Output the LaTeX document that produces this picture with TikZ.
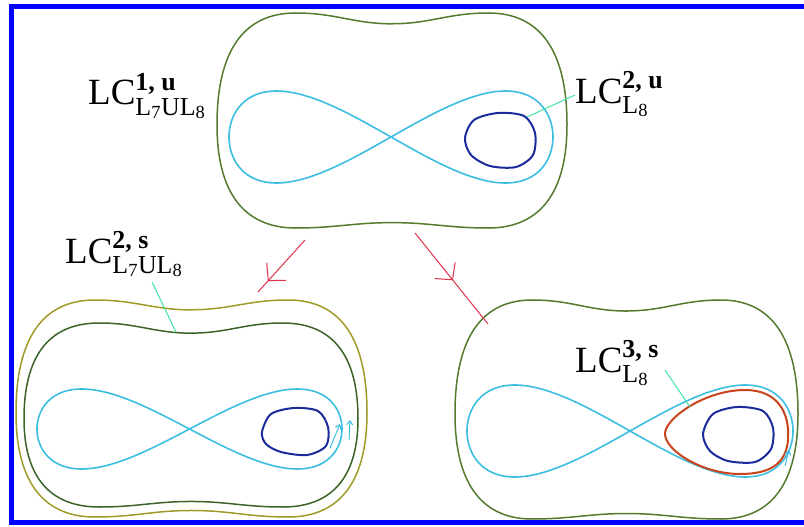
\documentclass[tikz,border=0pt]{standalone}
\usepackage{amsmath}
\usepackage{fontspec}
\setmainfont{Liberation Serif}
\usetikzlibrary{arrows.meta,decorations.markings}
\definecolor{frameblue}{RGB}{0,0,255}
\definecolor{olivegreen}{RGB}{84,122,46}
\definecolor{darkgreen}{RGB}{60,100,40}
\definecolor{yelloliv}{RGB}{160,155,40}
\definecolor{eightcyan}{RGB}{60,190,225}
\definecolor{loopblue}{RGB}{26,44,156}
\definecolor{loopred}{RGB}{200,68,28}
\definecolor{arrred}{RGB}{225,48,74}
\definecolor{conngreen}{RGB}{64,228,168}
\newcommand\peanut[7]{%
\begin{scope}[shift={(#1,#2)},xscale=#3,yscale=#4]
\draw[#7] (0,{-1+#5}) .. controls (0.22,{-1+#5}) and (0.32,-1) .. (0.55,-1)
 .. controls (0.86,-1) and (1,-0.62) .. (1,0.04)
 .. controls (1,0.64) and (0.86,1) .. (0.55,1)
 .. controls (0.32,1) and (0.22,{1-#6}) .. (0,{1-#6})
 .. controls (-0.22,{1-#6}) and (-0.32,1) .. (-0.55,1)
 .. controls (-0.86,1) and (-1,0.64) .. (-1,0.04)
 .. controls (-1,-0.62) and (-0.86,-1) .. (-0.55,-1)
 .. controls (-0.32,-1) and (-0.22,{-1+#5}) .. cycle;
\end{scope}}
\newcommand\eightcurve[4]{%
\draw[eightline] plot[domain=0:360,samples=160,smooth] ({#1+#3*cos(\x)},{#2+#4*sin(2*\x)});}
\tikzset{
  x=1pt, y=-1pt,
  outline/.style={draw=olivegreen, line width=1.5pt},
  eightline/.style={draw=eightcyan, line width=1.6pt},
  bluel/.style={draw=loopblue, line width=2pt},
  redl/.style={draw=loopred, line width=2pt},
  conn/.style={draw=conngreen, line width=1pt},
  lbl/.style={inner sep=0pt, anchor=base west, font=\fontsize{37}{40}\selectfont},
  redarrow/.style={draw=arrred, line width=1pt, postaction={decorate},
    decoration={markings, mark=at position #1 with {\arrow{Straight Barb[length=12pt,width=26pt,line width=1pt]}}}},
  smallarr/.style={draw=eightcyan, line width=1pt, -{Straight Barb[length=4pt,width=6pt]}}
}
\begin{document}
\begin{tikzpicture}
\useasboundingbox (0,0) rectangle (804,527);
\fill[white] (0,0) rectangle (804,527);
% frame
\draw[frameblue, line width=5pt, line join=miter] (804,7) -- (11,7) -- (11,522) -- (804,522);
% top group
\peanut{392}{120.5}{175}{107.5}{0.1}{0.05}{outline}
\eightcurve{391}{137}{162}{46}
\draw[bluel] plot[smooth cycle] coordinates {(465,138) (474,120) (498,113) (524,116) (535,133) (533,155) (516,167) (490,166) (471,155)};
% bottom left group
\peanut{191.5}{408.5}{175.5}{108.5}{0.09}{0.06}{draw=yelloliv, line width=1.5pt}
\peanut{191}{415}{167}{92}{0.11}{0.06}{draw=darkgreen, line width=1.5pt}
\eightcurve{189.5}{429}{152.5}{40}
\draw[bluel] plot[smooth cycle] coordinates {(262,432) (271,414) (294,408) (318,411) (328,427) (326,446) (307,455) (281,452) (266,444)};
\draw[smallarr] (330,448) -- (340,424);
\draw[smallarr] (349,440) -- (350,420);
% bottom right group
\peanut{626.5}{409.5}{171.5}{109.5}{0.1}{0.05}{outline}
\eightcurve{630}{431}{163}{46}
\draw[redl] (665,433) .. controls (666,418) and (705,390) .. (745,390)
  .. controls (778,390) and (790,413) .. (788,440)
  .. controls (786,464) and (770,474) .. (740,474)
  .. controls (702,474) and (664,450) .. cycle;
\draw[bluel] plot[smooth cycle] coordinates {(703,434) (713,414) (737,407) (763,411) (773,428) (771,449) (755,462) (728,461) (710,451)};
\draw[smallarr] (785,466) -- (789,450);
% labels
\node[lbl] (l1) at (88,105) {$\text{LC}^{\text{\bfseries 1, u}}_{\text{L}_{\text{7}}\text{UL}_{\text{8}}}$};
\node[lbl] (l2) at (575,103) {$\text{LC}^{\text{\bfseries 2, u}}_{\text{L}_{\text{8}}}$};
\node[lbl] (l3) at (65,263) {$\text{LC}^{\text{\bfseries 2, s}}_{\text{L}_{\text{7}}\text{UL}_{\text{8}}}$};
\node[lbl] (l4) at (575,372) {$\text{LC}^{\text{\bfseries 3, s}}_{\text{L}_{\text{8}}}$};
% connectors
\coordinate (c2a) at (575,95); \coordinate (c2b) at (527,117);
\coordinate (c3a) at (152,282); \coordinate (c3b) at (176,332);
\coordinate (c4a) at (665,370); \coordinate (c4b) at (690,407);
\draw[conn] (c2a) -- (c2b);
\draw[conn] (c3a) -- (c3b);
\draw[conn] (c4a) -- (c4b);
% red arrows
\coordinate (r1a) at (305,240); \coordinate (r1b) at (258,292);
\coordinate (r2a) at (415,233); \coordinate (r2b) at (488,324);
\draw[redarrow=0.79] (r1a) -- (r1b);
\draw[redarrow=0.52] (r2a) -- (r2b);
\end{tikzpicture}
\end{document}
